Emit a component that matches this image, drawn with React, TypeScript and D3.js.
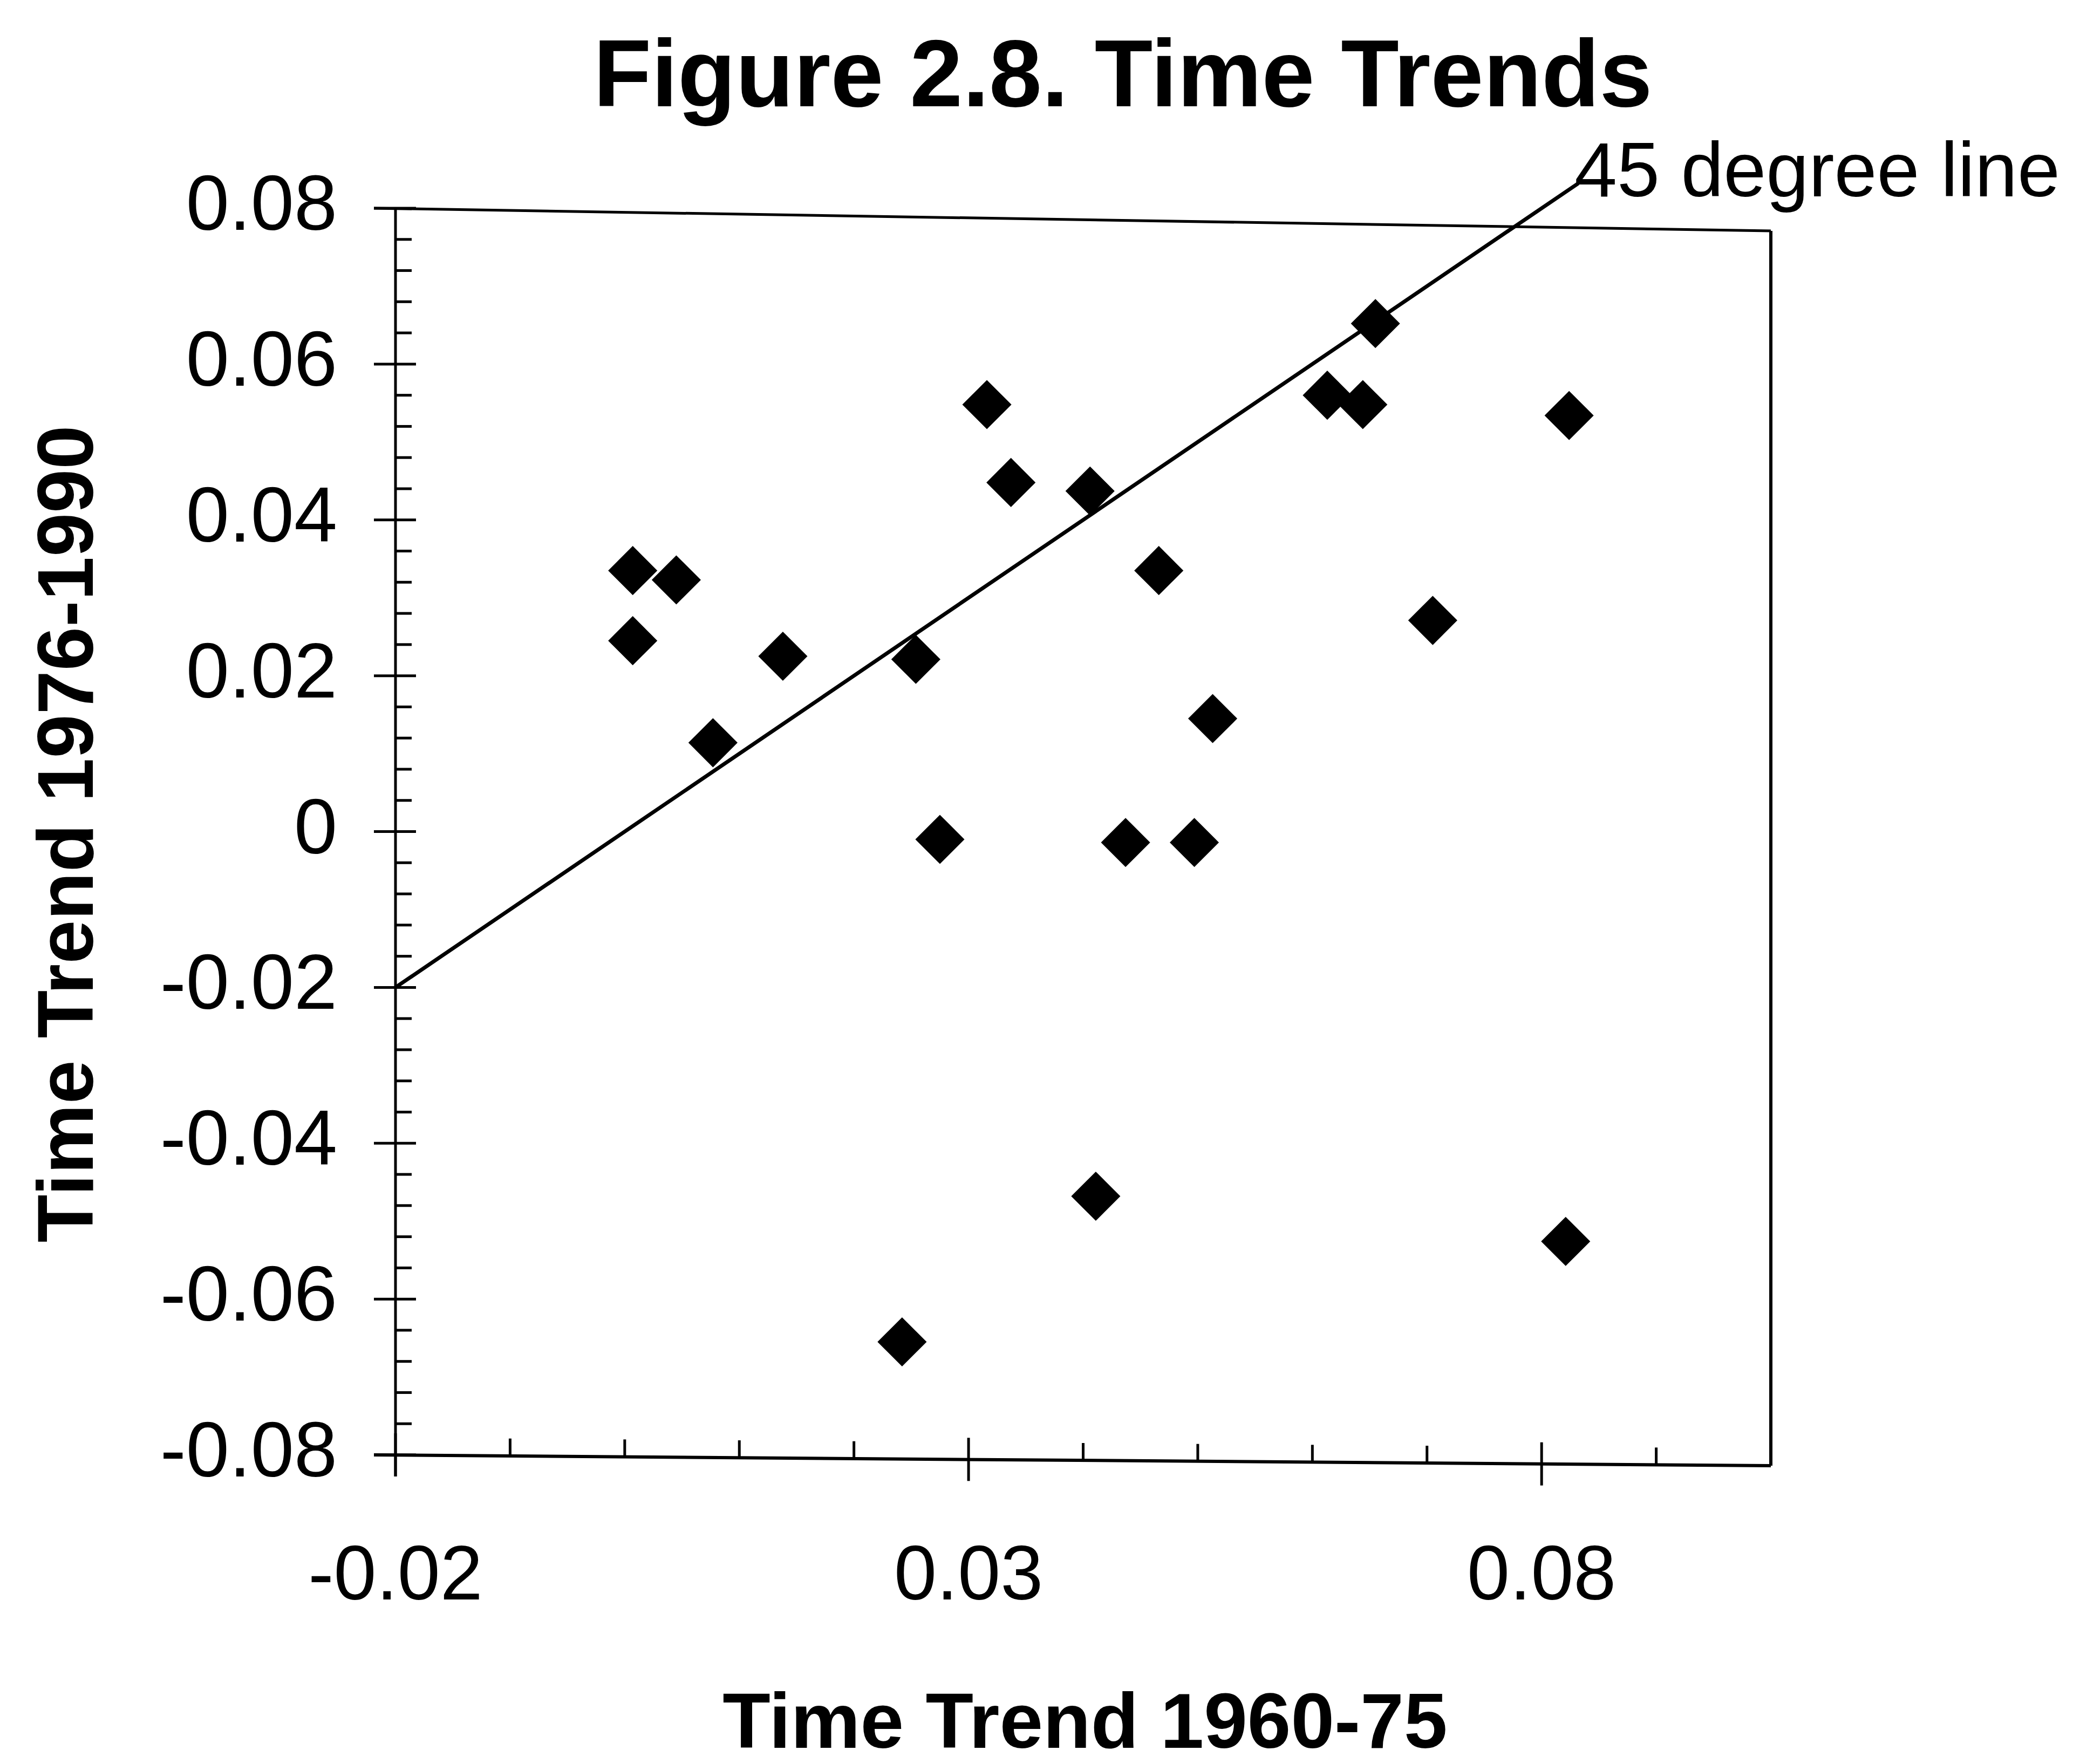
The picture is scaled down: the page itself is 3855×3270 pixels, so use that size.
import React from 'react';
import * as d3 from 'd3';

const W = 3855;
const H = 3270;

// scatter points: trend 1960-75 (x) vs trend 1976-1990 (y)
const trend6075 = [
  0.0007, 0.0007, 0.0045, 0.0077, 0.0138, 0.0254, 0.0275, 0.0242,
  0.0316, 0.0337, 0.0406, 0.0411, 0.0437, 0.0466, 0.0497, 0.0513,
  0.0613, 0.0644, 0.0655, 0.0705, 0.0824, 0.0821,
];
const trend7690 = [
  0.0335, 0.0245, 0.0323, 0.0114, 0.0225, 0.0221, -0.001, -0.0655,
  0.0548, 0.0448, 0.0437, -0.0468, -0.0014, 0.0335, -0.0014, 0.0145,
  0.056, 0.0548, 0.0652, 0.0271, 0.0534, -0.0526,
];

const xTickValues = [-0.02, 0.03, 0.08];
const xTickLabels = ['-0.02', '0.03', '0.08'];
const yTickValues = [0.08, 0.06, 0.04, 0.02, 0, -0.02, -0.04, -0.06, -0.08];
const yTickLabels = ['0.08', '0.06', '0.04', '0.02', '0', '-0.02', '-0.04', '-0.06', '-0.08'];

// 45 degree reference line, y = x
const lineStart = -0.02;
const lineEnd = 0.0832;

const font = "'Liberation Sans', Arial, sans-serif";

// the scanned frame sags a little towards the right
const topSag = 42;
const bottomSag = 20;

const App = () => {
  const x = d3.scaleLinear().domain([-0.02, 0.1]).range([733, 3282]);
  const y = d3.scaleLinear().domain([-0.08, 0.08]).range([2697, 386]);

  const xMinor = d3.range(-2, 11).map(i => i / 100).filter(v => !xTickValues.some(t => Math.abs(t - v) < 1e-9));
  const yMinor = d3.range(-20, 21).filter(i => i % 5 !== 0).map(i => i * 0.004);

  const diamond = d3.symbol().type(d3.symbolSquare).size(4150)();
  const line45 = d3.line()([[x(lineStart), y(lineStart)], [x(lineEnd), y(lineEnd)]]);

  const [x0, x1] = x.range();
  const [y0, y1] = y.range();
  const base = (px: number) => y0 + bottomSag * (px - x0) / (x1 - x0);

  return (
    <svg width={W} height={H} style={{ position: 'absolute', left: 0, top: 0, background: '#fff' }}>
      <rect width={W} height={H} fill="#fff" />
      <text x={2081} y={197} textAnchor="middle" fontFamily={font} fontWeight="bold" fontSize={176}>
        Figure 2.8. Time Trends
      </text>

      {/* frame */}
      <line x1={x0 - 40} x2={x1} y1={y1} y2={y1 + topSag} stroke="#000" strokeWidth={5} />
      <line x1={x1} x2={x1} y1={y1 + topSag} y2={y0 + bottomSag} stroke="#000" strokeWidth={6} />
      <line x1={x0 - 40} x2={x1} y1={y0} y2={y0 + bottomSag} stroke="#000" strokeWidth={6} />
      <line x1={x0} x2={x0} y1={y1} y2={y0 + 40} stroke="#000" strokeWidth={5} />

      {/* y ticks */}
      {yMinor.map(v => (
        <line key={'ym' + v} x1={x0} x2={x0 + 30} y1={y(v)} y2={y(v)} stroke="#000" strokeWidth={5} />
      ))}
      {yTickValues.map((v, i) => (
        <g key={'y' + i}>
          <line x1={x0 - 40} x2={x0 + 38} y1={y(v)} y2={y(v)} stroke="#000" strokeWidth={5} />
          <text x={625} y={y(v) + 40} textAnchor="end" fontFamily={font} fontSize={144}>
            {yTickLabels[i]}
          </text>
        </g>
      ))}

      {/* x ticks */}
      {xMinor.map(v => (
        <line key={'xm' + v} x1={x(v)} x2={x(v)} y1={base(x(v))} y2={base(x(v)) - 32} stroke="#000" strokeWidth={5} />
      ))}
      {xTickValues.map((v, i) => (
        <g key={'x' + i}>
          <line x1={x(v)} x2={x(v)} y1={base(x(v)) + 40} y2={base(x(v)) - 40} stroke="#000" strokeWidth={5} />
          <text x={x(v)} y={2965} textAnchor="middle" fontFamily={font} fontSize={142}>
            {xTickLabels[i]}
          </text>
        </g>
      ))}

      {/* 45 degree line */}
      <path d={line45 || ''} fill="none" stroke="#000" strokeWidth={7} />
      <text x={2918} y={364} fontFamily={font} fontSize={142}>45 degree line</text>

      {trend6075.map((v, i) => (
        <path key={'p' + i} d={diamond || ''} transform={`translate(${x(v)},${y(trend7690[i])}) rotate(45)`} fill="#000" />
      ))}

      <text x={2011} y={3240} textAnchor="middle" fontFamily={font} fontWeight="bold" fontSize={145}>
        Time Trend 1960-75
      </text>
      <text transform={`translate(172,1546) rotate(-90)`} textAnchor="middle" fontFamily={font} fontWeight="bold" fontSize={146}>
        Time Trend 1976-1990
      </text>
    </svg>
  );
};

export default App;
